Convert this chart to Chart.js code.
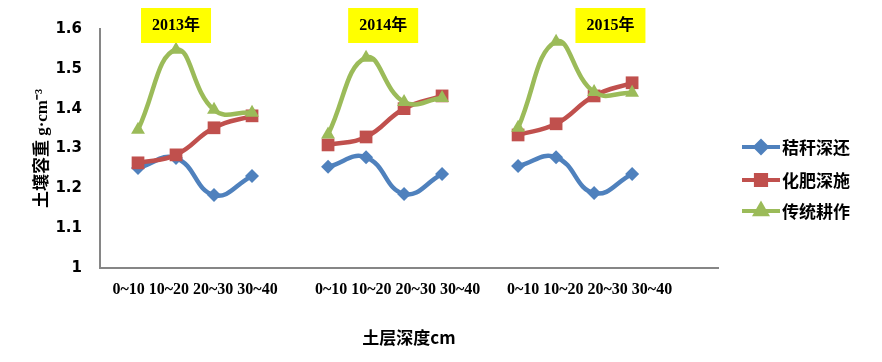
<!DOCTYPE html>
<html>
<head>
<meta charset="utf-8">
<script src="https://cdn.jsdelivr.net/npm/chart.js@4/dist/chart.umd.min.js"></script>
<style>
  body { margin: 0; background: #fff; }
  #wrap { width: 882px; height: 362px; }
</style>
</head>
<body>
<div id="wrap"><canvas id="c" width="882" height="362"></canvas></div>
<script>
// depth layers and the three years
const categories = ['0~10', '10~20', '20~30', '30~40'];
const years = ['2013年', '2014年', '2015年'];
const seriesNames = ['秸秆深还', '化肥深施', '传统耕作'];

// soil bulk density g·cm-3, 4 layers x 3 years
const straw = [1.251, 1.276, 1.183, 1.231, 1.254, 1.278, 1.186, 1.236, 1.256, 1.278, 1.188, 1.236];
const fert  = [1.264, 1.284, 1.352, 1.382, 1.309, 1.329, 1.400, 1.432, 1.334, 1.362, 1.432, 1.465];
const trad  = [1.347, 1.548, 1.397, 1.390, 1.335, 1.528, 1.417, 1.427, 1.352, 1.568, 1.442, 1.440];

const yTicks = [1, 1.1, 1.2, 1.3, 1.4, 1.5, 1.6];

const colors = ['#4F81BD', '#C0504D', '#9BBB59'];
const styles = ['rectRot', 'rect', 'triangle'];
const radii = [7, 9, 8];

// each year is a block of 4 slots, one empty slot between blocks
function toPoints(vals) {
  const pts = [];
  years.forEach((y, g) => {
    categories.forEach((c, i) => pts.push({ x: 1 + g * 5 + i, y: vals[g * 4 + i] }));
    if (g < years.length - 1) pts.push({ x: 5 + g * 5, y: null });
  });
  return pts;
}

const groupLabel = categories.join(' ');
const labelAt = [2.5, 7.83, 12.88];
const yearAt = [2.0, 7.45, 13.43];

const labelsPlugin = {
  id: 'extras',
  afterDraw(chart) {
    const ctx = chart.ctx;
    const xs = chart.scales.x;
    ctx.save();
    // year boxes
    ctx.font = 'bold 16px "Liberation Serif", "Noto Sans CJK SC"';
    ctx.textAlign = 'center';
    ctx.textBaseline = 'middle';
    years.forEach((y, i) => {
      const cx = xs.getPixelForValue(yearAt[i]);
      ctx.fillStyle = '#FFFF00';
      ctx.fillRect(cx - 35, 8, 70, 35);
      ctx.fillStyle = '#000';
      ctx.fillText(y, cx, 26);
    });
    // legend
    const lx = 742, ly = [147, 180, 211];
    chart.data.datasets.forEach((ds, i) => {
      ctx.strokeStyle = colors[i];
      ctx.lineWidth = 4;
      ctx.beginPath();
      ctx.moveTo(lx, ly[i]);
      ctx.lineTo(lx + 38, ly[i]);
      ctx.stroke();
      Chart.helpers.drawPoint(ctx, { pointStyle: styles[i], radius: radii[i] * 0.8, rotation: 0, borderWidth: 1 }, lx + 19, ly[i]);
      ctx.fillStyle = colors[i];
      ctx.fill();
      ctx.fillStyle = '#000';
      ctx.font = 'bold 17px "Noto Sans CJK SC"';
      ctx.textAlign = 'left';
      ctx.fillText(seriesNames[i], lx + 40, ly[i] + 1);
    });
    ctx.restore();
  }
};

function makeSet(i, vals, order) {
  return {
    label: seriesNames[i],
    data: toPoints(vals),
    borderColor: colors[i],
    backgroundColor: colors[i],
    borderWidth: 4.5,
    pointStyle: styles[i],
    pointRadius: radii[i],
    pointBorderWidth: 0,
    pointBackgroundColor: colors[i],
    tension: 0.45,
    spanGaps: false,
    order: order
  };
}

new Chart(document.getElementById('c'), {
  type: 'line',
  data: {
    datasets: [makeSet(0, straw, 3), makeSet(1, fert, 2), makeSet(2, trad, 1)]
  },
  options: {
    responsive: false,
    animation: false,
    layout: { padding: { left: 0, top: 29, right: 164, bottom: 14 } },
    plugins: { legend: { display: false }, tooltip: { enabled: false } },
    scales: {
      x: {
        type: 'linear',
        min: 0,
        max: 16.26,
        grid: { display: false, drawTicks: false },
        border: { display: true, color: '#868686', width: 2 },
        afterBuildTicks: s => { s.ticks = labelAt.map(v => ({ value: v })); },
        afterFit: s => { s.height = 80; },
        ticks: {
          autoSkip: false,
          maxRotation: 0,
          padding: 12,
          color: '#000',
          font: { family: '"Liberation Serif"', size: 16, weight: 'bold' },
          callback: () => groupLabel
        },
        title: {
          display: true,
          text: '土层深度cm',
          color: '#000',
          font: { family: '"Noto Sans CJK SC"', size: 17, weight: 'bold' },
          padding: { top: 0, bottom: 0 }
        }
      },
      y: {
        min: 1,
        max: 1.6,
        grid: { display: false, drawTicks: false },
        border: { display: true, color: '#868686', width: 2 },
        afterBuildTicks: s => { s.ticks = yTicks.map(v => ({ value: v })); },
        afterFit: s => { s.width = 100; },
        ticks: {
          padding: 18,
          color: '#000',
          font: { family: '"DejaVu Sans"', size: 15, weight: 'bold' },
          callback: v => String(+v.toFixed(1))
        },
        title: {
          display: true,
          text: '土壤容重 g·cm⁻³',
          color: '#000',
          font: { family: '"Liberation Serif", "Noto Sans CJK SC"', size: 17, weight: 'bold' },
          padding: { top: 32, bottom: 0 }
        }
      }
    }
  },
  plugins: [labelsPlugin]
});
</script>
</body>
</html>
